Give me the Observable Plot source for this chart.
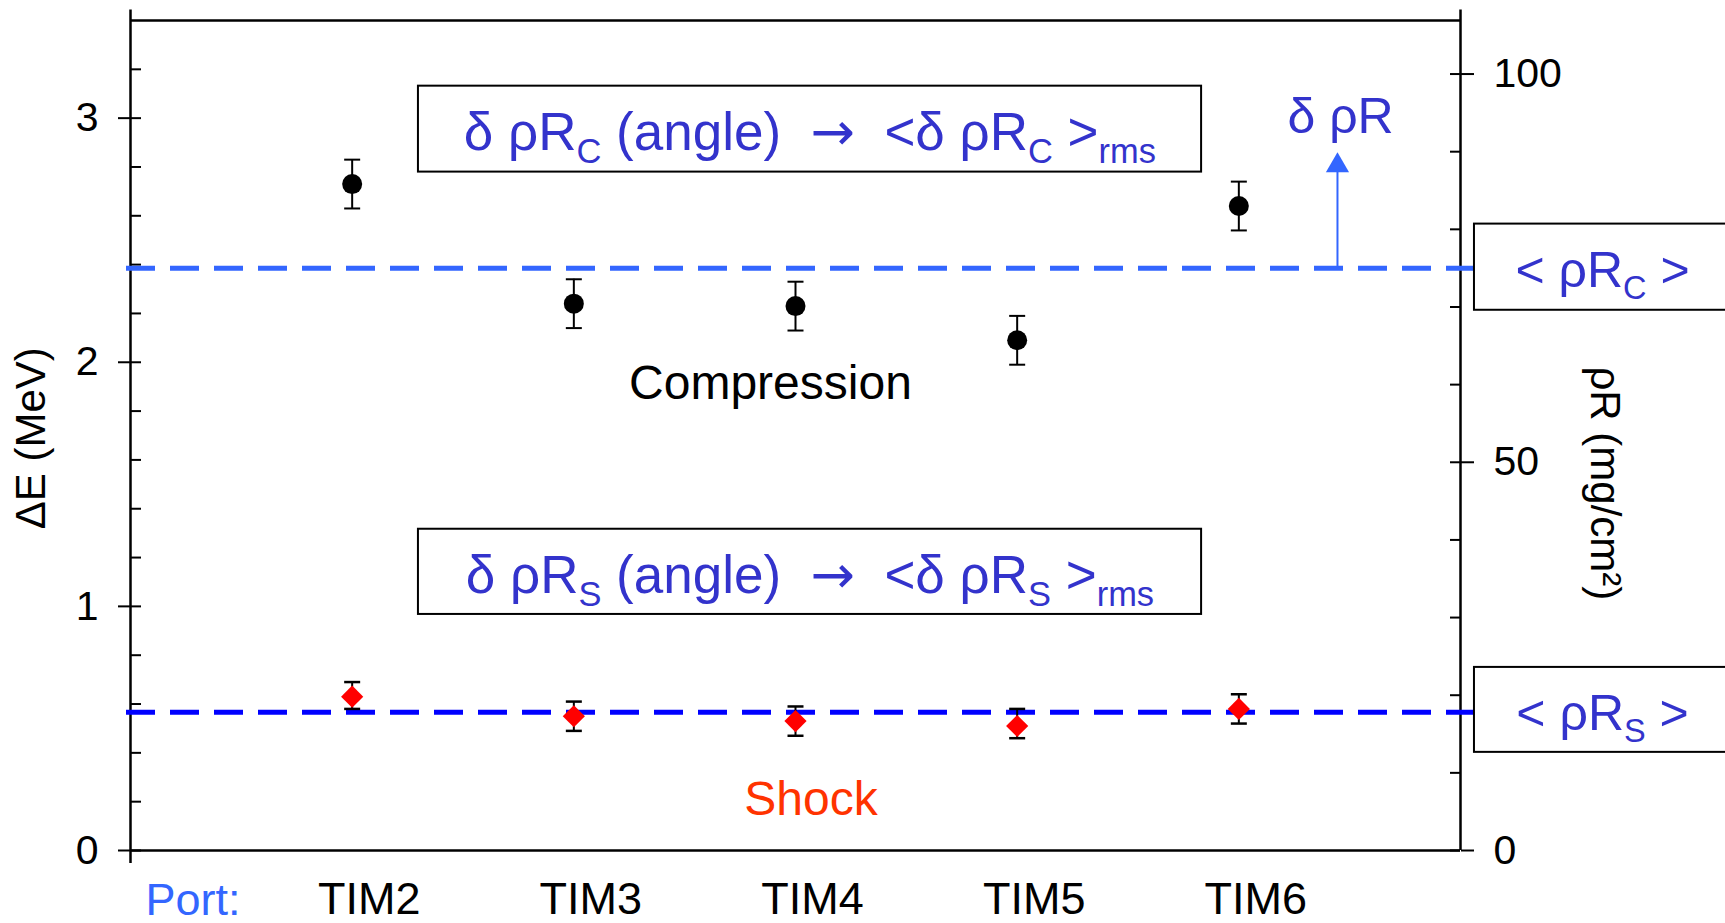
<!DOCTYPE html>
<html>
<head>
<meta charset="utf-8">
<script src="https://cdn.jsdelivr.net/npm/d3@7"></script>
<script src="https://cdn.jsdelivr.net/npm/@observablehq/plot@0.6"></script>
<style>
  html, body { margin: 0; padding: 0; background: #fff; overflow: hidden; }
  svg { display: block; }
</style>
</head>
<body>
<div id="chart"></div>
<script>
// ---- data (ΔE in MeV) ----
const ports = ["TIM2", "TIM3", "TIM4", "TIM5", "TIM6"];
const compression = [2.73, 2.24, 2.23, 2.09, 2.64];
const compressionErr = [0.10, 0.10, 0.10, 0.10, 0.10];
const shock = [0.63, 0.55, 0.53, 0.51, 0.58];
const shockLow = [0.58, 0.49, 0.47, 0.46, 0.52];
const shockHigh = [0.69, 0.61, 0.59, 0.58, 0.64];
const meanRhoRC = 2.385;   // <ρR_C> level (MeV)
const meanRhoRS = 0.566;   // <ρR_S> level (MeV)

// ---- axes ----
const yTicksMajor = [0, 1, 2, 3];
const yTicksMinor = [0, 0.2, 0.4, 0.6, 0.8, 1, 1.2, 1.4, 1.6, 1.8, 2, 2.2, 2.4, 2.6, 2.8, 3, 3.2];
const rhoRPerMeV = 31.44;  // right axis: mg/cm² per MeV
const rhoTicksMajor = [0, 50, 100];
const rhoTicksMinor = [0, 10, 20, 30, 40, 50, 60, 70, 80, 90, 100];

const rows = ports.map((p, i) => ({
  port: p, pos: i + 1,
  comp: compression[i], compLo: compression[i] - compressionErr[i], compHi: compression[i] + compressionErr[i],
  shock: shock[i], shockLo: shockLow[i], shockHi: shockHigh[i]
}));

// ---- annotations (x in port positions, y in MeV) ----
const boxes = [
  {x1: 1.299, x2: 4.832, y1: 2.779, y2: 3.131},
  {x1: 1.299, x2: 4.832, y1: 0.967, y2: 1.316},
  {x1: 6.063, x2: 7.5, y1: 2.213, y2: 2.566},
  {x1: 6.063, x2: 7.5, y1: 0.402, y2: 0.750}
];
const boxNotes = [
  {text: "δ ρR_{C} (angle)\u00A0 →\u00A0 <δ ρR_{C} >_{rms}", x: 3.065, y: 2.869},
  {text: "δ ρR_{S} (angle)\u00A0 →\u00A0 <δ ρR_{S} >_{rms}", x: 3.065, y: 1.053}
];
const sideNotes = [
  {text: "< ρR_{C} >", x: 6.641, y: 2.307},
  {text: "< ρR_{S} >", x: 6.641, y: 0.492},
  {text: "δ ρR", x: 5.459, y: 2.939}
];
const arrowNote = [{x: 5.445, y1: meanRhoRC, y2: 2.779, tipY: 2.806}];

const capSymbol = {
  draw(ctx, size) { const h = Math.sqrt(size / Math.PI); ctx.moveTo(-h, 0); ctx.lineTo(h, 0); }
};

const frameW = 1725 - 130 - 265;

const chart = Plot.plot({
  width: 1725,
  height: 923,
  marginLeft: 130,
  marginRight: 265,
  marginTop: 20,
  marginBottom: 73,
  style: {fontFamily: "'Liberation Sans', Arial, sans-serif", fontSize: "41px", color: "black", background: "white"},
  x: {type: "linear", domain: [0, 6], axis: null},
  y: {type: "linear", domain: [0, 3.4], axis: null},
  marks: [
    // frame
    Plot.ruleY([0, 3.4], {stroke: "black", strokeWidth: 2.5}),
    Plot.ruleX([0], {y1: -0.053, y2: 3.443, stroke: "black", strokeWidth: 2.5}),
    Plot.ruleX([6], {y1: 0, y2: 3.443, stroke: "black", strokeWidth: 2.5}),
    // left axis
    Plot.tickY(yTicksMinor, {y: d => d, insetRight: frameW - 11, stroke: "black", strokeWidth: 2}),
    Plot.axisY({anchor: "left", ticks: yTicksMajor, tickFormat: d => String(d), tickSize: 12, tickPadding: 20, fontSize: 41, strokeWidth: 2, label: null}),
    Plot.text([{t: "ΔE (MeV)", y: 1.689}], {text: "t", y: "y", frameAnchor: "left", dx: -86, rotate: -90, fontSize: 42, lineAnchor: "bottom", textAnchor: "middle", fill: "black"}),
    // right axis
    Plot.tickY(rhoTicksMinor, {y: r => r / rhoRPerMeV, insetLeft: frameW - 10, stroke: "black", strokeWidth: 2}),
    Plot.axisY({anchor: "right", ticks: rhoTicksMajor.map(r => r / rhoRPerMeV), tickFormat: v => String(Math.round(v * rhoRPerMeV)), tickSize: 13, tickPadding: 20, fontSize: 41, strokeWidth: 2, label: null}),
    Plot.text([{t: "ρR (mg/cm²)", y: 1.504}], {text: "t", y: "y", frameAnchor: "right", dx: 130, rotate: 90, fontSize: 42, lineAnchor: "bottom", textAnchor: "middle", fill: "black"}),
    // bottom axis
    Plot.axisX({anchor: "bottom", ticks: rows.map(d => d.pos), tickFormat: v => ports[v - 1], tickSize: 0, tickPadding: 32, fontSize: 45, dx: 17, label: null}),
    Plot.text([{t: "Port:"}], {text: "t", frameAnchor: "bottom-left", dx: 15, dy: 64, textAnchor: "start", lineAnchor: "bottom", fontSize: 45, fill: "#3366ff"}),
    // mean levels
    Plot.ruleY([meanRhoRC], {stroke: "#3366ff", strokeWidth: 5, strokeDasharray: "29,15", insetLeft: -4, insetRight: -14}),
    Plot.ruleY([meanRhoRS], {stroke: "#0000ff", strokeWidth: 5, strokeDasharray: "29,15", insetLeft: -4, insetRight: -14}),
    // boxes
    Plot.rect(boxes, {x1: "x1", x2: "x2", y1: "y1", y2: "y2", fill: "white", stroke: "black", strokeWidth: 2}),
    // arrow
    Plot.ruleX(arrowNote, {x: "x", y1: "y1", y2: "y2", stroke: "#3366ff", strokeWidth: 2}),
    Plot.dot(arrowNote, {x: "x", y: "tipY", symbol: "triangle", r: 8.6, fill: "#3366ff", stroke: "none"}),
    // error bars
    Plot.ruleX(rows, {x: "pos", y1: "compLo", y2: "compHi", stroke: "black", strokeWidth: 2}),
    Plot.dot(rows, {x: "pos", y: "compLo", symbol: capSymbol, r: 8, stroke: "black", strokeWidth: 2, fill: "none"}),
    Plot.dot(rows, {x: "pos", y: "compHi", symbol: capSymbol, r: 8, stroke: "black", strokeWidth: 2, fill: "none"}),
    Plot.ruleX(rows, {x: "pos", y1: "shockLo", y2: "shockHi", stroke: "black", strokeWidth: 2}),
    Plot.dot(rows, {x: "pos", y: "shockLo", symbol: capSymbol, r: 8, stroke: "black", strokeWidth: 2.5, fill: "none"}),
    Plot.dot(rows, {x: "pos", y: "shockHi", symbol: capSymbol, r: 8, stroke: "black", strokeWidth: 2.5, fill: "none"}),
    // markers
    Plot.dot(rows, {x: "pos", y: "comp", symbol: "circle", r: 10, fill: "black", stroke: "none"}),
    Plot.dot(rows, {x: "pos", y: "shock", symbol: "diamond2", r: 10, fill: "#ff0000", stroke: "none"}),
    // labels
    Plot.text([{t: "Compression", x: 2.887, y: 1.848}], {text: "t", x: "x", y: "y", fontSize: 48, lineAnchor: "bottom", textAnchor: "middle", fill: "black"}),
    Plot.text([{t: "Shock", x: 3.07, y: 0.1434}], {text: "t", x: "x", y: "y", fontSize: 48, lineAnchor: "bottom", textAnchor: "middle", fill: "#ff3300"}),
    Plot.text(boxNotes, {text: "text", x: "x", y: "y", fontSize: 53, lineAnchor: "bottom", textAnchor: "middle", fill: "#3333cc"}),
    Plot.text(sideNotes, {text: "text", x: "x", y: "y", fontSize: 50, lineAnchor: "bottom", textAnchor: "middle", fill: "#3333cc"})
  ]
});

document.getElementById("chart").appendChild(chart);

// turn _{...} into subscript tspans and draw arrows with a larger glyph
d3.select(chart).selectAll("text").each(function () {
  const el = this;
  const s = el.textContent;
  if (!s.includes("_{") && !s.includes("→")) return;
  const fs = parseFloat(getComputedStyle(el).fontSize);
  const shift = fs * 0.24;
  const parts = s.split(/(_\{[^}]*\}|→)/).filter(p => p.length);
  el.textContent = "";
  let shifted = false;
  for (const p of parts) {
    const t = document.createElementNS("http://www.w3.org/2000/svg", "tspan");
    if (p.startsWith("_{")) {
      t.textContent = p.slice(2, -1);
      t.setAttribute("font-size", (fs * 0.65) + "px");
      t.setAttribute("dy", shift);
      shifted = true;
    } else {
      t.textContent = p;
      if (p === "→") t.setAttribute("font-family", "'DejaVu Sans', sans-serif");
      if (shifted) { t.setAttribute("dy", -shift); shifted = false; }
    }
    el.appendChild(t);
  }
});
</script>
</body>
</html>
